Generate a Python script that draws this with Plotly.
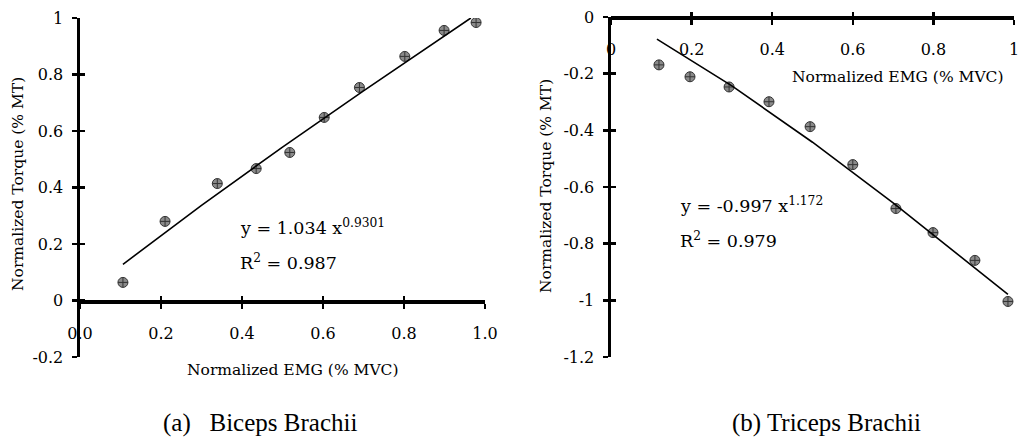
import plotly.graph_objects as go

W, H = 1018, 439

# ---------------- data ----------------
biceps_emg = [0.106, 0.21, 0.339, 0.435, 0.518, 0.603, 0.690, 0.802, 0.899, 0.978]
biceps_torque = [0.064, 0.28, 0.414, 0.467, 0.524, 0.648, 0.754, 0.864, 0.956, 0.984]
biceps_fit_x = [0.106, 0.3, 0.5, 0.7, 0.965]
biceps_fit_y = [0.128, 0.337, 0.543, 0.742, 1.000]

triceps_emg = [0.119, 0.196, 0.293, 0.392, 0.494, 0.600, 0.707, 0.799, 0.903, 0.985]
triceps_torque = [-0.169, -0.211, -0.247, -0.299, -0.387, -0.521, -0.676, -0.761, -0.859, -1.004]
triceps_fit_x = [0.114, 0.3, 0.5, 0.7, 0.985]
triceps_fit_y = [-0.078, -0.243, -0.442, -0.656, -0.979]

a_xticks = [0.0, 0.2, 0.4, 0.6, 0.8, 1.0]
a_xticktext = ["0.0", "0.2", "0.4", "0.6", "0.8", "1.0"]
a_yticks = [-0.2, 0, 0.2, 0.4, 0.6, 0.8, 1.0]
a_yticktext = ["-0.2", "0", "0.2", "0.4", "0.6", "0.8", "1"]

b_xticks = [0.0, 0.2, 0.4, 0.6, 0.8, 1.0]
b_xticktext = ["0", "0.2", "0.4", "0.6", "0.8", "1"]
b_yticks = [0, -0.2, -0.4, -0.6, -0.8, -1.0, -1.2]
b_yticktext = ["0", "-0.2", "-0.4", "-0.6", "-0.8", "-1", "-1.2"]

x_title = "Normalized EMG (% MVC)"
y_title = "Normalized Torque (% MT)"
eq_a = "y = 1.034 x<sup>0.9301</sup>"
r2_a = "R<sup>2</sup> = 0.987"
eq_b = "y = -0.997 x<sup>1.172</sup>"
r2_b = "R<sup>2</sup> = 0.979"
cap_a = "(a)\u00a0\u00a0\u00a0Biceps Brachii"
cap_b = "(b) Triceps Brachii"

# ---------------- helpers ----------------
def px(x):
    return x / W

def py(y):
    return 1 - y / H

TICKFONT = dict(family="DejaVu Serif", size=16, color="black")
TITLEFONT = dict(family="DejaVu Serif", size=15.5, color="black")
EQFONT = dict(family="DejaVu Serif", size=17.5, color="black")
CAPFONT = dict(family="Liberation Serif", size=25, color="black")

marker = dict(symbol="circle-cross", size=10, color="#8a8a8a",
              line=dict(color="#333333", width=1))

fig = go.Figure()

# left panel
fig.add_trace(go.Scatter(x=biceps_emg, y=biceps_torque, mode="markers",
                         marker=marker, xaxis="x", yaxis="y"))
fig.add_trace(go.Scatter(x=biceps_fit_x, y=biceps_fit_y, mode="lines",
                         line=dict(color="black", width=1.6), xaxis="x", yaxis="y"))
# right panel
fig.add_trace(go.Scatter(x=triceps_emg, y=triceps_torque, mode="markers",
                         marker=marker, xaxis="x2", yaxis="y2"))
fig.add_trace(go.Scatter(x=triceps_fit_x, y=triceps_fit_y, mode="lines",
                         line=dict(color="black", width=1.6), xaxis="x2", yaxis="y2"))
# empty traces to host the inner-tick overlay axes
for xa, ya in [("x3", "y3"), ("x4", "y4")]:
    fig.add_trace(go.Scatter(x=[], y=[], xaxis=xa, yaxis=ya, hoverinfo="skip"))

a_dom_x = [px(80), px(485)]
a_dom_y = [py(357), py(18)]
a_x_pos = py(301)
b_dom_x = [px(611), px(1014)]
b_dom_y = [py(357), py(17)]
b_x_pos = py(17)

LW = 3.5
TL = 5
TW = 2.5

def main_x(dom, pos, rng, tv, tt):
    return dict(domain=dom, range=rng, anchor="free", position=pos, side="bottom",
                showline=True, linecolor="black", linewidth=LW,
                ticks="outside", ticklen=TL, tickwidth=TW, tickcolor="black",
                tickvals=tv, ticktext=tt, tickfont=TICKFONT, ticklabelstandoff=11,
                ticklabeloverflow="allow",
                showgrid=False, zeroline=False, fixedrange=True, automargin=False)

def main_y(dom, rng, tv, tt, anchor):
    return dict(domain=dom, range=rng, anchor=anchor, side="left",
                showline=True, linecolor="black", linewidth=LW,
                ticks="outside", ticklen=TL, tickwidth=TW, tickcolor="black",
                tickvals=tv, ticktext=tt, tickfont=TICKFONT, ticklabelstandoff=5,
                showgrid=False, zeroline=False, fixedrange=True, automargin=False)

def over_x(ov, pos, rng, tv):
    return dict(overlaying=ov, range=rng, anchor="free", position=pos, side="bottom",
                showline=False, ticks="inside", ticklen=TL, tickwidth=TW,
                tickcolor="black", tickvals=tv, showticklabels=False,
                showgrid=False, zeroline=False, fixedrange=True, automargin=False)

def over_y(ov, rng, tv, anchor):
    return dict(overlaying=ov, range=rng, anchor=anchor, side="left",
                showline=False, ticks="inside", ticklen=TL, tickwidth=TW,
                tickcolor="black", tickvals=tv, showticklabels=False,
                showgrid=False, zeroline=False, fixedrange=True, automargin=False)

fig.update_layout(
    template="none",
    width=W, height=H,
    margin=dict(l=0, r=0, t=0, b=0, pad=0),
    paper_bgcolor="white", plot_bgcolor="rgba(0,0,0,0)",
    showlegend=False,
    xaxis=main_x(a_dom_x, a_x_pos, [0, 1.0], a_xticks, a_xticktext),
    yaxis=main_y(a_dom_y, [-0.2, 1.0], a_yticks, a_yticktext, "x"),
    xaxis2=main_x(b_dom_x, b_x_pos, [0, 1.0], b_xticks, b_xticktext),
    yaxis2=main_y(b_dom_y, [-1.2, 0], b_yticks, b_yticktext, "x2"),
    xaxis3=over_x("x", a_x_pos, [0, 1.0], a_xticks),
    yaxis3=over_y("y", [-0.2, 1.0], a_yticks, "x"),
    xaxis4=over_x("x2", b_x_pos, [0, 1.0], b_xticks),
    yaxis4=over_y("y2", [-1.2, 0], b_yticks, "x2"),
)

ann = []
def add(text, x, y, font, xanchor="center", angle=0):
    ann.append(dict(text=text, x=px(x), y=py(y), xref="paper", yref="paper",
                    xanchor=xanchor, yanchor="middle", showarrow=False,
                    font=font, textangle=angle))

add(x_title, 293, 370, TITLEFONT)
add(x_title, 898, 77, TITLEFONT)
add(y_title, 18, 184, TITLEFONT, angle=-90)
add(y_title, 546, 186, TITLEFONT, angle=-90)
add(eq_a, 238, 227, EQFONT, xanchor="left")
add(r2_a, 238, 262, EQFONT, xanchor="left")
add(eq_b, 678, 205, EQFONT, xanchor="left")
add(r2_b, 678, 240, EQFONT, xanchor="left")
add(cap_a, 260, 423, CAPFONT)
add(cap_b, 826, 423, CAPFONT)
fig.update_layout(annotations=ann)

fig.write_html("out.html",
               config={"displayModeBar": False, "staticPlot": True},
               post_script="document.body.style.margin='0';document.body.style.overflow='hidden';")
